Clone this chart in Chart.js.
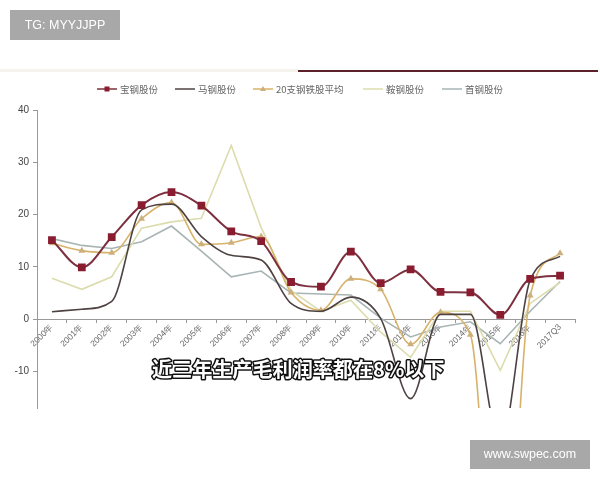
<!DOCTYPE html>
<html><head><meta charset="utf-8">
<script src="https://cdn.jsdelivr.net/npm/chart.js@4.4.0/dist/chart.umd.min.js"></script>
<style>html,body{margin:0;padding:0;background:#fff}#wrap{position:relative;width:600px;height:480px}</style>
</head><body><div id="wrap"><canvas id="c"></canvas></div>
<script>
const categories = ['2000年','2001年','2002年','2003年','2004年','2005年','2006年','2007年','2008年','2009年','2010年','2011年','2012年','2013年','2014年','2015年','2016年','2017Q3'];
const seriesNames = ['宝钢股份','马钢股份','20支钢铁股平均','鞍钢股份','首钢股份'];
const baosteel = [15.1, 9.9, 15.7, 21.8, 24.3, 21.7, 16.8, 14.9, 7.1, 6.2, 12.9, 6.9, 9.5, 5.2, 5.1, 0.8, 7.7, 8.3];
const magang   = [1.4, 1.9, 3.4, 20.9, 22.0, 15.8, 12.2, 11.3, 3.0, 1.5, 4.2, 0.1, -15.2, 0.9, 0.9, -24.0, 7.5, 12.0];
const avg20    = [14.5, 13.1, 12.7, 19.2, 22.3, 14.3, 14.6, 15.8, 5.1, 1.7, 7.7, 5.7, -4.8, 1.3, -3.0, -65.0, 4.5, 12.6];
const angang   = [7.8, 5.7, 8.1, 17.4, 18.6, 19.3, 33.2, 17.5, 5.5, 1.5, 3.6, -2.5, -7.3, 1.5, 1.5, -9.8, 3.0, 7.0];
const shougang = [15.4, 14.1, 13.5, 14.8, 17.8, 13.0, 8.1, 9.2, 5.0, 4.8, 4.6, 0.2, -3.4, -1.5, -0.5, -4.7, 1.5, 7.2];
const subtitle = '近三年生产毛利润率都在8%以下';
const watermarkTop = 'TG: MYYJJPP';
const watermarkBottom = 'www.swpec.com';

const colors = {
  bao: '#8a1c30', baoLine: '#7d3040',
  ma: '#4e4242',
  avg: '#d8b26a', avgPt: '#ccb07c',
  an: '#dcdcae',
  shou: '#a9b4b4'
};

const CJK = '"Noto Sans CJK SC", "Noto Sans", sans-serif';
const LAT = '"Liberation Sans", Arial, sans-serif';

const overlay = {
  id: 'overlay',
  beforeDraw(chart) {
    const ctx = chart.ctx;
    ctx.save();
    ctx.fillStyle = '#fff';
    ctx.fillRect(0, 0, chart.width, chart.height);
    ctx.restore();
  },
  afterDraw(chart) {
    const ctx = chart.ctx;
    ctx.save();
    // top band line
    ctx.fillStyle = '#f6f3ee';
    ctx.fillRect(0, 69, 298, 3);
    ctx.fillStyle = '#5c1f2c';
    ctx.fillRect(298, 70, 300, 2);

    // legend
    const items = [
      {t: seriesNames[0], c: colors.baoLine, m: 'rect', mc: colors.bao},
      {t: seriesNames[1], c: colors.ma},
      {t: seriesNames[2], c: colors.avg, m: 'tri', mc: colors.avgPt},
      {t: seriesNames[3], c: colors.an},
      {t: seriesNames[4], c: colors.shou}
    ];
    const starts = [97, 175, 253, 363, 442];
    const ly = 89;
    ctx.font = '9.5px ' + CJK;
    ctx.textBaseline = 'middle';
    items.forEach((it, i) => {
      const x = starts[i];
      ctx.strokeStyle = it.c; ctx.lineWidth = 1.5;
      ctx.beginPath(); ctx.moveTo(x, ly); ctx.lineTo(x + 20, ly); ctx.stroke();
      if (it.m === 'rect') { ctx.fillStyle = it.mc; ctx.fillRect(x + 7.5, ly - 2.5, 5, 5); }
      if (it.m === 'tri') { ctx.fillStyle = it.mc; ctx.beginPath(); ctx.moveTo(x + 10, ly - 3); ctx.lineTo(x + 13, ly + 2); ctx.lineTo(x + 7, ly + 2); ctx.closePath(); ctx.fill(); }
      ctx.fillStyle = '#666';
      ctx.textAlign = 'left';
      ctx.fillText(it.t, x + 23, ly + 0.5);
    });

    // subtitle
    let fs = 22;
    ctx.font = '700 ' + fs + 'px ' + CJK;
    const w = ctx.measureText(subtitle).width;
    fs = fs * 293 / w;
    ctx.font = '700 ' + fs.toFixed(1) + 'px ' + CJK;
    ctx.textAlign = 'left';
    ctx.textBaseline = 'middle';
    ctx.lineJoin = 'round';
    ctx.strokeStyle = '#111'; ctx.lineWidth = 3;
    ctx.strokeText(subtitle, 152, 369);
    ctx.fillStyle = '#fff';
    ctx.fillText(subtitle, 152, 369);

    // watermarks
    ctx.fillStyle = '#a8a8a8';
    ctx.fillRect(10, 10, 110, 30);
    ctx.fillRect(470, 440, 120, 29);
    ctx.fillStyle = '#fff';
    ctx.font = '12.5px ' + LAT;
    ctx.textAlign = 'center';
    ctx.fillText(watermarkTop, 65, 25.5);
    ctx.fillText(watermarkBottom, 530, 455);
    ctx.restore();
  }
};

const smooth = {cubicInterpolationMode: 'monotone'};
new Chart(document.getElementById('c'), {
  type: 'line',
  data: {
    labels: categories,
    datasets: [
      Object.assign({label: seriesNames[0], data: baosteel, borderColor: colors.baoLine, borderWidth: 2, pointStyle: 'rect', pointRadius: 5.5, pointBackgroundColor: colors.bao, pointBorderColor: colors.bao, pointBorderWidth: 0}, smooth),
      Object.assign({label: seriesNames[1], data: magang, borderColor: colors.ma, borderWidth: 1.6, pointRadius: 0}, smooth),
      Object.assign({label: seriesNames[2], data: avg20, borderColor: colors.avg, borderWidth: 1.6, pointStyle: 'triangle', pointRadius: 4, pointBackgroundColor: colors.avgPt, pointBorderColor: colors.avgPt, pointBorderWidth: 0}, smooth),
      {label: seriesNames[3], data: angang, borderColor: colors.an, borderWidth: 1.6, pointRadius: 0, tension: 0},
      {label: seriesNames[4], data: shougang, borderColor: colors.shou, borderWidth: 1.6, pointRadius: 0, tension: 0}
    ]
  },
  options: {
    responsive: true,
    maintainAspectRatio: false,
    animation: false,
    events: [],
    layout: {padding: {top: 110, bottom: 72, left: 0, right: 25}},
    plugins: {legend: {display: false}, tooltip: {enabled: false}},
    scales: {
      x: {
        type: 'category',
        position: {y: 0},
        offset: true,
        grid: {display: true, offset: true, drawOnChartArea: false, drawTicks: true, tickLength: 3, color: '#999'},
        border: {color: '#999', width: 1},
        ticks: {minRotation: 45, maxRotation: 45, autoSkip: false, padding: 0, color: '#666', font: {size: 8.5, family: LAT}}
      },
      y: {
        min: -17, max: 40,
        afterFit(s) { s.width = 37; },
        grid: {display: true, drawOnChartArea: false, drawTicks: true, tickLength: 4, color: '#999'},
        border: {color: '#999', width: 1},
        ticks: {stepSize: 10, includeBounds: false, padding: 4, color: '#444', font: {size: 10, family: LAT}}
      }
    }
  },
  plugins: [overlay]
});
</script>
</body></html>
